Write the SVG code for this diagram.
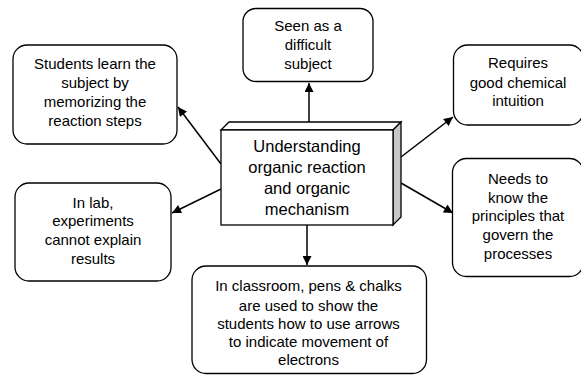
<svg xmlns="http://www.w3.org/2000/svg" width="581" height="376" viewBox="0 0 581 376">
<style>
.box{fill:#fff;stroke:#000;stroke-width:1.3}
.t{font-family:"Liberation Sans",Arial,sans-serif;font-size:15px;fill:#000;text-anchor:middle}
.c{font-size:16.5px}
.ln{stroke:#000;stroke-width:1.5;fill:none;marker-end:url(#ah)}
</style>
<defs>
<marker id="ah" viewBox="0 0 10 10" refX="10" refY="5" markerWidth="10" markerHeight="9" markerUnits="userSpaceOnUse" orient="auto">
<path d="M0,0 L10,5 L0,10 z" fill="#000"/>
</marker>
</defs>
<g id="connectors">
<line class="ln" x1="309" y1="122" x2="309" y2="83"/>
<line class="ln" x1="221" y1="164" x2="178" y2="107"/>
<line class="ln" x1="221" y1="189" x2="172" y2="213"/>
<line class="ln" x1="401" y1="157" x2="453" y2="117"/>
<line class="ln" x1="401" y1="183" x2="453" y2="213"/>
<line class="ln" x1="307" y1="225" x2="307" y2="265"/>
</g>
<g id="center">
<path d="M221,130 L229,122 L401,122 L393,130 Z" class="box"/>
<path d="M393,130 L401,122 L401,217 L393,225 Z" fill="#c8c8c8" stroke="#000" stroke-width="1.3"/>
<rect x="221" y="130" width="172" height="95" class="box"/>
<text class="t c" x="307" y="152">Understanding</text>
<text class="t c" x="307" y="173">organic reaction</text>
<text class="t c" x="307" y="194">and organic</text>
<text class="t c" x="307" y="215">mechanism</text>
</g>
<g id="top">
<rect x="243" y="8.5" width="130" height="73" rx="13" class="box"/>
<text class="t" x="308" y="31">Seen as a</text>
<text class="t" x="308" y="50">difficult</text>
<text class="t" x="308" y="69">subject</text>
</g>
<g id="topleft">
<rect x="13" y="45" width="164" height="99" rx="14" class="box"/>
<text class="t" x="95" y="69">Students learn the</text>
<text class="t" x="95" y="88">subject by</text>
<text class="t" x="95" y="107">memorizing the</text>
<text class="t" x="95" y="126">reaction steps</text>
</g>
<g id="left">
<rect x="15" y="183" width="156" height="98" rx="14" class="box"/>
<text class="t" x="93" y="207.5">In lab,</text>
<text class="t" x="93" y="226">experiments</text>
<text class="t" x="93" y="244.5">cannot explain</text>
<text class="t" x="93" y="263.5">results</text>
</g>
<g id="topright">
<rect x="453.5" y="45" width="130" height="80" rx="14" class="box"/>
<text class="t" x="518" y="68">Requires</text>
<text class="t" x="518" y="88">good chemical</text>
<text class="t" x="518" y="106">intuition</text>
</g>
<g id="right">
<rect x="452.5" y="158.5" width="131" height="118" rx="14" class="box"/>
<text class="t" x="518" y="183.5">Needs to</text>
<text class="t" x="518" y="202.5">know the</text>
<text class="t" x="518" y="221">principles that</text>
<text class="t" x="518" y="240">govern the</text>
<text class="t" x="518" y="259">processes</text>
</g>
<g id="bottom">
<rect x="192" y="266" width="234.5" height="107.5" rx="14" class="box"/>
<text class="t" x="308.5" y="291">In classroom, pens &amp; chalks</text>
<text class="t" x="308.5" y="310.5">are used to show the</text>
<text class="t" x="308.5" y="328.5">students how to use arrows</text>
<text class="t" x="308.5" y="347">to indicate movement of</text>
<text class="t" x="308.5" y="365">electrons</text>
</g>
</svg>
